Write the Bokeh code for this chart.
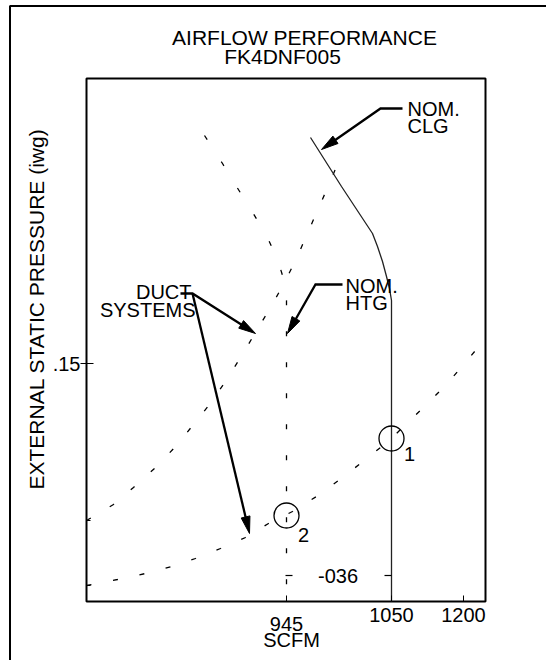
import numpy as np
from bokeh.plotting import figure
from bokeh.models import Range1d, FixedTicker
from bokeh.core.properties import value
from bokeh.embed import file_html
from bokeh.resources import INLINE

FONT = "Liberation Sans"
FS = "20px"
FS_TITLE = "21px"

# ---- data (chart units: schematic drawing, 1 unit ~ 1 px of the original) ----
x_tick_pos = [200, 305, 377]
x_tick_labels = ["945", "1050", "1200"]
x_title = "SCFM"
y_tick_pos = [238]
y_tick_labels = [".15"]
y_title = "EXTERNAL STATIC PRESSURE (iwg)"
title_lines = ["AIRFLOW PERFORMANCE", "FK4DNF005"]
y_minor_marks = [81, 16]          # where the duct-system curves meet the axis
level_036_y = 26
level_036_label = "-036"

# duct system curve (high resistance)
duct_hi_x = [0, 27, 47, 69, 90, 107, 123, 139, 154, 169, 184, 198, 210, 220, 231, 242, 253, 257]
duct_hi_y = [81, 97, 114, 134, 156, 177, 197, 220, 244, 269, 294, 319, 343, 366, 391, 416, 442, 451]
# duct system curve (low resistance)
duct_lo_x = [0, 31, 59, 85, 109, 134, 159, 182, 206, 230, 252, 274, 294, 305, 317, 338, 359, 378, 399]
duct_lo_y = [16, 22, 28, 35, 43, 53, 64, 78, 90, 105, 121, 138, 154, 163, 175, 195, 216, 238, 263]
# nominal heating blower curve
htg_x = [118, 136, 150, 165, 180, 191, 197, 200, 200]
htg_y = [466, 438, 415, 391, 366, 342, 323, 301, 0]
# nominal cooling blower curve
clg_x = [224, 255, 286, 291, 296, 300, 303, 305, 305]
clg_y = [464, 415, 368, 355, 340, 325, 313, 301, 0]

# operating points
op_x = [305, 200]
op_y = [163, 86]
op_labels = ["1", "2"]

# callouts: leader paths (last point = arrow tip)
leaders = {
    "clg": ([316, 294, 235], [493, 493, 452]),
    "htg": ([256, 229, 201], [317, 317, 268]),
    "duct1": ([94, 106, 169], [308, 308, 268]),
    "duct2": ([106, 163], [308, 68]),
}

# chart area (plot box) in chart units
X_MAX, Y_MAX = 399, 523

p = figure(
    output_backend="svg", toolbar_location=None,
    frame_width=546, frame_height=660,
    min_border=0,
    x_range=Range1d(-86, 460), y_range=Range1d(-59, 601),
    background_fill_color="white", border_fill_color="white",
)
p.grid.visible = False
p.outline_line_color = None

# axes, fixed at the edges of the plot box
xa = p.xaxis[0]
xa.fixed_location = 0
xa.ticker = FixedTicker(ticks=x_tick_pos)
xa.major_label_overrides = {t: (l if l != "945" else "") for t, l in zip(x_tick_pos, x_tick_labels)}
xa.major_tick_in = 6
xa.major_tick_out = 0
xa.minor_tick_in = 0
xa.minor_tick_out = 0
xa.axis_line_color = None
xa.major_tick_line_color = "black"
xa.major_label_standoff = 6
xa.major_label_text_font = FONT
xa.major_label_text_font_size = FS
xa.major_label_text_color = "black"

ya = p.yaxis[0]
ya.fixed_location = 0
ya.ticker = FixedTicker(ticks=y_tick_pos)
ya.major_label_overrides = dict(zip(y_tick_pos, y_tick_labels))
ya.major_tick_in = 7
ya.major_tick_out = 6
ya.minor_tick_in = 0
ya.minor_tick_out = 0
ya.axis_line_color = None
ya.major_tick_line_color = "black"
ya.major_label_standoff = 0
ya.major_label_text_font = FONT
ya.major_label_text_font_size = FS
ya.major_label_text_color = "black"

# plot box
p.quad(left=[0], right=[X_MAX], bottom=[0], top=[Y_MAX], fill_color=None, line_color="black", line_width=2)
# outer drawing border (left and top edges)
p.line([-76.5, -76.5, 470], [-70, 595.5, 595.5], line_color="black", line_width=2)

# small axis marks
p.segment(x0=[0] * len(y_minor_marks), y0=y_minor_marks, x1=[4] * len(y_minor_marks), y1=y_minor_marks,
          line_color="black", line_width=1.2)

# curves
dash_kw = dict(line_color="black", line_width=1.3, line_dash="5 22")
p.line(duct_hi_x, duct_hi_y, **dash_kw)
p.line(duct_lo_x, duct_lo_y, **dash_kw)
p.line(htg_x, htg_y, line_color="black", line_width=1.3, line_dash="5 26")
p.line(clg_x, clg_y, line_color="#222222", line_width=1.3)

# operating points
p.scatter(op_x, op_y, marker="circle", size=25, fill_color=None, line_color="black", line_width=1.3)
p.text([op_x[0]], [op_y[0]], text=[op_labels[0]], x_offset=18, y_offset=15,
       text_font=value(FONT), text_font_size=FS, text_align="center", text_baseline="middle")
p.text([op_x[1]], [op_y[1]], text=[op_labels[1]], x_offset=17, y_offset=19,
       text_font=value(FONT), text_font_size=FS, text_align="center", text_baseline="middle")

# -036 level marks
p.segment(x0=[x_tick_pos[0] - 1, x_tick_pos[1] - 7], y0=[level_036_y] * 2,
          x1=[x_tick_pos[0] + 6, x_tick_pos[1]], y1=[level_036_y] * 2, line_color="black", line_width=1.2)
p.text([(x_tick_pos[0] + x_tick_pos[1]) / 2], [level_036_y], text=[level_036_label], x_offset=-1,
       text_font=value(FONT), text_font_size=FS, text_align="center", text_baseline="middle")

# leaders with arrow heads
L, HW = 17.0, 4.5
hx, hy = [], []
for name, (lx, ly) in leaders.items():
    tip = np.array([lx[-1], ly[-1]], float)
    prev = np.array([lx[-2], ly[-2]], float)
    d = (tip - prev) / np.linalg.norm(tip - prev)
    base = tip - d * L
    perp = np.array([-d[1], d[0]])
    a = base + perp * HW
    b = base - perp * HW
    hx.append([tip[0], a[0], b[0]])
    hy.append([tip[1], a[1], b[1]])
    p.line(list(lx[:-1]) + [base[0] + d[0] * 2], list(ly[:-1]) + [base[1] + d[1] * 2],
           line_color="black", line_width=2.3, line_join="miter")
p.patches(hx, hy, fill_color="black", line_color="black", line_width=1)

# callout texts
tk = dict(text_font=value(FONT), text_font_size=FS, text_baseline="middle", text_color="black")
p.text([321, 321], [493, 476], text=["NOM.", "CLG"], text_align="left", **tk)
p.text([259, 259], [316, 299], text=["NOM.", "HTG"], text_align="left", **tk)
p.text([105, 109], [310, 292], text=["DUCT", "SYSTEMS"], text_align="right", **tk)

# titles and axis titles
ck = dict(text_font=value(FONT), text_baseline="middle", text_align="center", text_color="black")
p.text([218, 196], [564, 545], text=title_lines, text_font_size=FS_TITLE, **ck)
p.text([-50], [Y_MAX / 2 + 31], text=[y_title], angle=np.pi / 2, text_font_size=FS_TITLE, **ck)
p.text([x_tick_pos[0]], [0], text=[x_tick_labels[0]], y_offset=22, text_font_size=FS, **ck)
p.text([x_tick_pos[0] + 5], [0], text=[x_title], y_offset=38, text_font_size=FS, **ck)

open("out.html", "w").write(file_html(p, INLINE))
